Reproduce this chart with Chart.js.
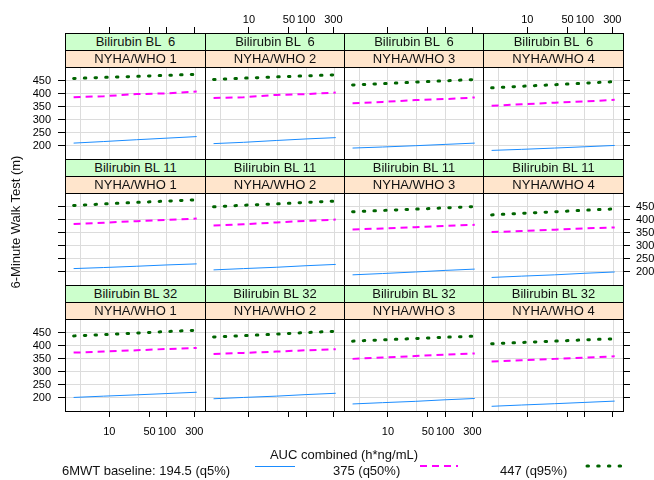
<!DOCTYPE html>
<html>
<head>
<meta charset="utf-8">
<script src="https://cdn.jsdelivr.net/npm/chart.js@4.4.1/dist/chart.umd.min.js"></script>
<style>
  body { margin: 0; background: #fff; font-family: "Liberation Sans", Arial, sans-serif; }
  #wrap { position: relative; width: 654px; height: 480px; overflow: hidden; }
  #wrap canvas { position: absolute; }
  .strip { position: absolute; box-sizing: border-box; border: 1px solid #000; font-size: 13px;
           text-align: center; line-height: 16px; white-space: pre; z-index: 5; color: #111; }
  .txt { position: absolute; font-size: 13px; white-space: pre; color: #111; }
</style>
</head>
<body>
<div id="wrap"></div>
<script>
// panel conditioning labels
const bilirubin = [' 6', '11', '32'];
const nyha = ['1', '2', '3', '4'];

// AUC combined (h*ng/mL)
const auc = [2.4, 8, 30, 100, 330];

// 6MWT per panel, row by row (bilirubin 6, 11, 32) x NYHA 1..4
const q5 = [
  [210, 216, 223, 229, 235], [208, 213, 220, 226, 231], [191, 195, 200, 205, 210], [182, 186, 191, 196, 201],
  [212, 216, 221, 226, 230], [207, 212, 217, 223, 228], [188, 193, 199, 205, 210], [178, 183, 188, 194, 199],
  [201, 206, 211, 216, 221], [196, 201, 206, 212, 217], [176, 181, 186, 192, 197], [167, 172, 177, 182, 187]
];
const q50 = [
  [386, 390, 398, 401, 408], [383, 386, 395, 398, 404], [363, 368, 375, 379, 385], [353, 359, 365, 370, 376],
  [383, 388, 394, 399, 404], [377, 382, 389, 395, 400], [362, 366, 371, 376, 380], [352, 356, 361, 366, 370],
  [373, 377, 382, 387, 391], [368, 372, 377, 382, 386], [349, 354, 360, 365, 370], [339, 344, 349, 354, 359]
];
const q95 = [
  [458, 462, 466, 470, 474], [454, 459, 464, 468, 472], [433, 438, 444, 449, 454], [422, 428, 434, 440, 446],
  [454, 460, 466, 471, 476], [449, 455, 460, 466, 471], [430, 435, 440, 445, 450], [418, 424, 430, 436, 441],
  [437, 442, 448, 454, 459], [433, 438, 444, 450, 455], [417, 422, 427, 432, 436], [407, 412, 417, 422, 426]
];

const xTicks = [10, 50, 100, 300];
const xGrid = [3.16, 10, 31.6, 100, 316];
const yTicks = [200, 250, 300, 350, 400, 450];
const legendLabels = ['6MWT baseline: 194.5 (q5%)', '375 (q50%)', '447 (q95%)'];

// layout
const colLeft = [65, 205, 344, 483];
const colW = [140, 139, 139, 140];
const rowTop = [33, 159, 285];
const stripH = 17, plotH = 92;
const ML = 70, MR = 70, MT = 75, MB = 60;
const font = { family: '"Liberation Sans", Arial, sans-serif', size: 11 };
const gridCol = '#dcdcdc';

const wrap = document.getElementById('wrap');

function addText(str, left, top, extra) {
  const d = document.createElement('div');
  d.className = 'txt';
  d.textContent = str;
  d.style.left = left + 'px';
  d.style.top = top + 'px';
  if (extra) Object.assign(d.style, extra);
  wrap.appendChild(d);
  return d;
}

const setTicks = vals => s => { s.ticks = vals.map(v => ({ value: v })); };

for (let r = 0; r < 3; r++) {
  for (let c = 0; c < 4; c++) {
    const i = r * 4 + c;

    // strips
    const s1 = document.createElement('div');
    s1.className = 'strip';
    s1.style.cssText = `left:${colLeft[c]}px;top:${rowTop[r]}px;width:${colW[c] + 1}px;height:${stripH + 1}px;background:#ccffcc;`;
    s1.textContent = 'Bilirubin BL ' + bilirubin[r];
    wrap.appendChild(s1);
    const s2 = document.createElement('div');
    s2.className = 'strip';
    s2.style.cssText = `left:${colLeft[c]}px;top:${rowTop[r] + stripH}px;width:${colW[c] + 1}px;height:${stripH + 1}px;background:#ffe5cc;`;
    s2.textContent = 'NYHA/WHO ' + nyha[c];
    wrap.appendChild(s2);

    // panel canvas
    const cv = document.createElement('canvas');
    const W = colW[c] + ML + MR, H = plotH + MT + MB;
    cv.width = W; cv.height = H;
    cv.style.left = (colLeft[c] - ML) + 'px';
    cv.style.top = (rowTop[r] + 2 * stripH - MT) + 'px';
    wrap.appendChild(cv);

    const logAxis = { type: 'logarithmic', min: 1.7, max: 460 };

    new Chart(cv.getContext('2d'), {
      type: 'line',
      data: {
        datasets: [
          { data: auc.map((x, k) => ({ x, y: q5[i][k] })), borderColor: '#1a8cff', borderWidth: 1 },
          { data: auc.map((x, k) => ({ x, y: q50[i][k] })), borderColor: '#ff00ff', borderWidth: 2, borderDash: [7, 5] },
          { data: auc.map((x, k) => ({ x, y: q95[i][k] })), borderColor: '#006400', borderWidth: 3,
            borderDash: [1.5, 9.2], borderCapStyle: 'round' }
        ]
      },
      options: {
        responsive: false,
        animation: false,
        events: [],
        elements: { point: { radius: 0 }, line: { tension: 0 } },
        plugins: { legend: { display: false }, tooltip: { enabled: false } },
        layout: { padding: 0 },
        scales: {
          x: {
            ...logAxis, position: 'bottom',
            afterBuildTicks: setTicks(xGrid),
            ticks: { display: false },
            grid: { color: gridCol, drawTicks: false },
            border: { display: true, color: '#000' },
            afterFit: s => { s.height = 0; }
          },
          xb: {
            ...logAxis, position: 'bottom',
            afterBuildTicks: setTicks(xTicks),
            ticks: { display: r === 2 && c % 2 === 0, font, color: '#000', padding: 8,
                     maxRotation: 0, autoSkip: false, callback: v => String(v) },
            grid: { drawOnChartArea: false, drawTicks: r === 2, tickLength: 6, tickColor: '#000' },
            border: { display: false },
            afterFit: s => { s.height = MB; }
          },
          xt: {
            ...logAxis, position: 'top',
            afterBuildTicks: setTicks(xTicks),
            ticks: { display: r === 0 && c % 2 === 1, font, color: '#000', padding: 0,
                     maxRotation: 0, autoSkip: false, callback: v => String(v) },
            grid: { drawOnChartArea: false, drawTicks: r === 0, tickLength: 2 * stripH + 6, tickColor: '#000' },
            border: { display: true, color: '#000' },
            afterFit: s => { s.height = MT; }
          },
          y: {
            type: 'linear', position: 'left', min: 149, max: 502,
            afterBuildTicks: setTicks(yTicks),
            ticks: { display: c === 0 && r !== 1, font, color: '#000', padding: 7 },
            grid: { color: gridCol, drawTicks: c === 0, tickLength: 7, tickColor: '#000' },
            border: { display: true, color: '#000' },
            afterFit: s => { s.width = ML; }
          },
          yr: {
            type: 'linear', position: 'right', min: 149, max: 502,
            afterBuildTicks: setTicks(yTicks),
            ticks: { display: c === 3 && r === 1, font, color: '#000', padding: 6 },
            grid: { drawOnChartArea: false, drawTicks: c === 3, tickLength: 7, tickColor: '#000' },
            border: { display: true, color: '#000' },
            afterFit: s => { s.width = MR; }
          }
        }
      }
    });
  }
}

// axis titles
addText('AUC combined (h*ng/mL)', 344, 447, { transform: 'translateX(-50%)' });
addText('6-Minute Walk Test (m)', 15, 222, { transform: 'translate(-50%,-50%) rotate(-90deg)' });

// legend
addText(legendLabels[0], 62, 463);
addText(legendLabels[1], 333, 463);
addText(legendLabels[2], 500, 463);
const svg = document.createElementNS('http://www.w3.org/2000/svg', 'svg');
svg.setAttribute('width', '654'); svg.setAttribute('height', '480');
svg.style.cssText = 'position:absolute;left:0;top:0;';
svg.innerHTML =
  '<line x1="255" y1="466.5" x2="295" y2="466.5" stroke="#1a8cff" stroke-width="1"/>' +
  '<line x1="420" y1="466" x2="458" y2="466" stroke="#ff00ff" stroke-width="2" stroke-dasharray="7 5"/>' +
  '<line x1="587" y1="466" x2="623" y2="466" stroke="#006400" stroke-width="3" stroke-dasharray="1.5 9.2" stroke-linecap="round"/>';
wrap.appendChild(svg);
</script>
</body>
</html>
